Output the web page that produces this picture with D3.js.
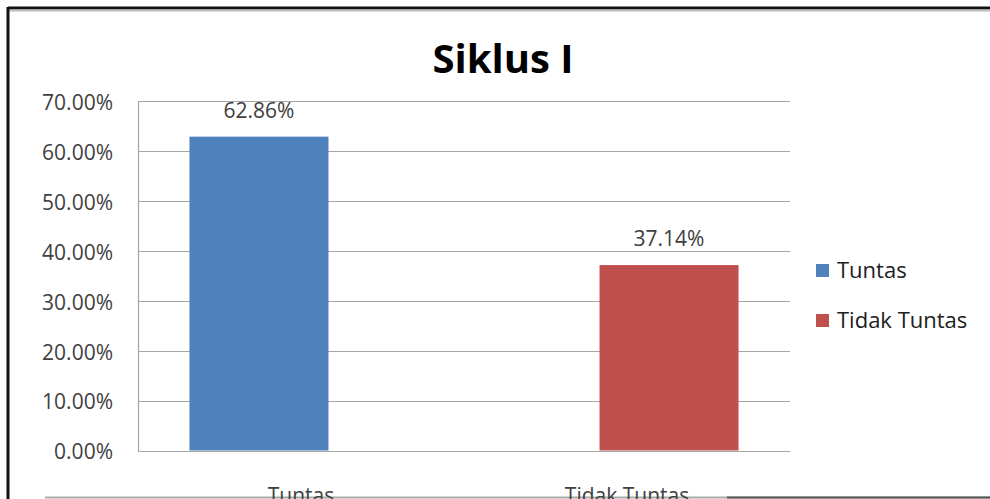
<!DOCTYPE html>
<html>
<head>
<meta charset="utf-8">
<script src="https://cdn.jsdelivr.net/npm/d3@7"></script>
<style>
  body { margin: 0; background: #fff; }
  svg { display: block; font-family: "Open Sans", "Noto Sans", sans-serif; }
</style>
</head>
<body>
<svg id="chart" width="990" height="499"></svg>
<script>
var title = "Siklus I"
var categories = ["Tuntas", "Tidak Tuntas"]
var values = [62.86, 37.14]
var colors = ["#4F81BD", "#C0504D"]
var yTicks = [0, 10, 20, 30, 40, 50, 60, 70]

var width = 990, height = 499
var margin = {top: 101, right: 200, bottom: 48, left: 138}

var svg = d3.select("#chart")

// frame edges (the picture is a cropped screenshot of a bordered chart)
svg.append("line").attr("x1", 8).attr("y1", 8).attr("x2", 990).attr("y2", 8)
	.attr("stroke", "#111").attr("stroke-width", 3)
svg.append("line").attr("x1", 8).attr("y1", 10.5).attr("x2", 990).attr("y2", 10.5)
	.attr("stroke", "#bbb").attr("stroke-width", 2)
svg.append("line").attr("x1", 8).attr("y1", 7).attr("x2", 8).attr("y2", 499)
	.attr("stroke", "#111").attr("stroke-width", 3)
svg.append("line").attr("x1", 45).attr("y1", 497.5).attr("x2", 990).attr("y2", 497.5)
	.attr("stroke", "#aaa").attr("stroke-width", 2)
svg.append("line").attr("x1", 727).attr("y1", 497.5).attr("x2", 990).attr("y2", 497.5)
	.attr("stroke", "#555").attr("stroke-width", 2)

var yScale = d3.scaleLinear()
	.domain([0, 70])
	.range([height - margin.bottom - 0.5, margin.top])

// labels sit in the middle of each category band
var xScale = d3.scaleBand()
	.domain(categories)
	.range([margin.left, width - margin.right])

// bars are narrower and offset inside the bands
var barScale = d3.scaleBand()
	.domain(categories)
	.range([margin.left, width - margin.right])
	.paddingInner(0.661)
	.paddingOuter(0.1255)

// gridlines
svg.append("g")
	.selectAll("line")
	.data(yTicks)
	.enter()
	.append("line")
	.attr("x1", margin.left)
	.attr("x2", width - margin.right)
	.attr("y1", d => Math.round(yScale(d)) + 0.5)
	.attr("y2", d => Math.round(yScale(d)) + 0.5)
	.attr("stroke", "#a6a6a6")
	.attr("stroke-width", 1.2)

// y axis
var yAxis = d3.axisLeft(yScale)
	.tickValues(yTicks)
	.tickSize(0)
	.tickPadding(25)
	.tickFormat(d => d.toFixed(2) + "%")

var yg = svg.append("g")
	.attr("transform", "translate(" + margin.left + ",0)")
	.call(yAxis)
	.attr("font-family", null)
	.attr("font-size", null)
yg.select(".domain").attr("stroke", "#a6a6a6").attr("stroke-width", 1.2)
yg.selectAll("text")
	.attr("fill", "#404040")
	.style("font-size", "21px")
	.attr("dy", "0.4em")

// bars
svg.selectAll(".bar")
	.data(values)
	.enter()
	.append("rect")
	.attr("class", "bar")
	.attr("x", (d, i) => barScale(categories[i]))
	.attr("width", barScale.bandwidth())
	.attr("y", d => yScale(d))
	.attr("height", d => yScale(0) - yScale(d))
	.attr("fill", (d, i) => colors[i])

// value labels
svg.selectAll(".val")
	.data(values)
	.enter()
	.append("text")
	.attr("class", "val")
	.attr("x", (d, i) => barScale(categories[i]) + barScale.bandwidth() / 2)
	.attr("y", d => yScale(d) - 19)
	.attr("text-anchor", "middle")
	.attr("fill", "#404040")
	.style("font-size", "21px")
	.text(d => d.toFixed(2) + "%")

// category labels (cut off by the frame at the bottom)
svg.selectAll(".cat")
	.data(categories)
	.enter()
	.append("text")
	.attr("class", "cat")
	.attr("x", d => xScale(d) + xScale.bandwidth() / 2)
	.attr("y", 503)
	.attr("text-anchor", "middle")
	.attr("fill", "#404040")
	.style("font-size", "21px")
	.text(d => d)

// title
svg.append("text")
	.attr("x", 503)
	.attr("y", 73)
	.attr("text-anchor", "middle")
	.attr("fill", "#000")
	.style("font-size", "40px")
	.style("font-weight", "bold")
	.text(title)

// legend
var legend = svg.selectAll(".legend")
	.data(categories)
	.enter()
	.append("g")
	.attr("class", "legend")
	.attr("transform", (d, i) => "translate(816," + (264 + i * 50) + ")")

legend.append("rect")
	.attr("width", 13)
	.attr("height", 13)
	.attr("fill", (d, i) => colors[i])

legend.append("text")
	.attr("x", 21)
	.attr("y", 14)
	.attr("fill", "#202020")
	.style("font-size", "22px")
	.text(d => d)
</script>
</body>
</html>
